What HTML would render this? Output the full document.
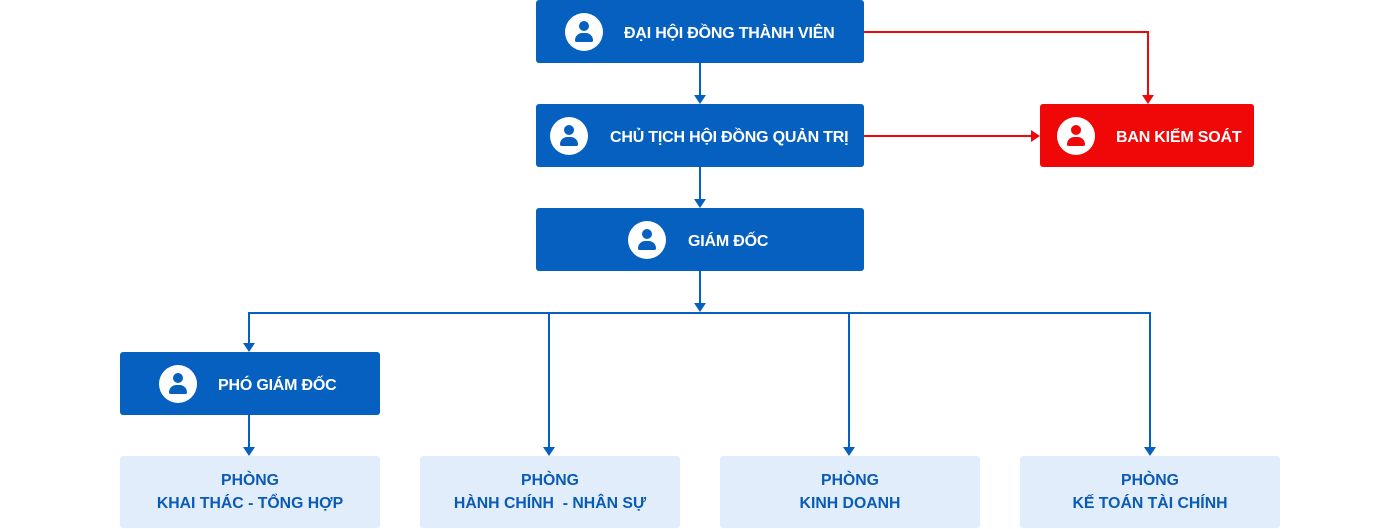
<!DOCTYPE html>
<html><head><meta charset="utf-8"><style>
body{margin:0;width:1400px;height:529px;background:#fff;position:relative;overflow:hidden;font-family:"Liberation Sans",sans-serif;}
.b{position:absolute;background:#0660c0;border-radius:3px;color:#fff;font-weight:bold;font-size:16px;}
.b span{position:absolute;top:calc(50% + 2px);transform:translateY(-50%);white-space:nowrap;letter-spacing:-0.2px}
.ic{position:absolute;width:38px;height:38px;border-radius:50%;background:#fff;top:13px;}
.ic:before{content:"";position:absolute;left:14px;top:8px;width:10px;height:10px;border-radius:50%;background:#0660c0}
.ic:after{content:"";position:absolute;left:10px;top:20px;width:18px;height:9px;border-radius:9px 9px 2px 2px;background:#0660c0}
.red{background:#f00808}.red .ic:before,.red .ic:after{background:#f00808}
.l{position:absolute;background:#e1edfb;border-radius:3px;color:#0a5bb5;font-weight:bold;font-size:15.8px;text-align:center;line-height:23px;padding-top:13px;box-sizing:border-box;width:260px;height:72px;top:456px}
svg{position:absolute;left:0;top:0}
</style></head><body>
<svg width="1400" height="529">
<g stroke="#0660c0" stroke-width="2" fill="none">
<line x1="700" y1="63" x2="700" y2="96"/>
<line x1="700" y1="167" x2="700" y2="200"/>
<line x1="700" y1="271" x2="700" y2="305"/>
<polyline points="249,344 249,313 1150,313 1150,448"/>
<line x1="549" y1="313" x2="549" y2="448"/>
<line x1="849" y1="313" x2="849" y2="448"/>
<line x1="249" y1="415" x2="249" y2="448"/>
</g>
<g fill="#0660c0">
<polygon points="694,95 706,95 700,104"/>
<polygon points="694,199 706,199 700,208"/>
<polygon points="694,303 706,303 700,312"/>
<polygon points="243,343 255,343 249,352"/>
<polygon points="243,447 255,447 249,456"/>
<polygon points="543,447 555,447 549,456"/>
<polygon points="843,447 855,447 849,456"/>
<polygon points="1144,447 1156,447 1150,456"/>
</g>
<g stroke="#f00808" stroke-width="2" fill="none">
<polyline points="864,32 1148,32 1148,96"/>
<line x1="864" y1="136" x2="1032" y2="136"/>
</g>
<g fill="#f00808">
<polygon points="1142,95 1154,95 1148,104"/>
<polygon points="1031,130 1031,142 1040,136"/>
</g>
</svg>
<div class="b" style="left:536px;top:0;width:328px;height:63px"><div class="ic" style="left:29px"></div><span style="left:88px">ĐẠI HỘI ĐỒNG THÀNH VIÊN</span></div>
<div class="b" style="left:536px;top:104px;width:328px;height:63px"><div class="ic" style="left:14px"></div><span style="left:74px">CHỦ TỊCH HỘI ĐỒNG QUẢN TRỊ</span></div>
<div class="b" style="left:536px;top:208px;width:328px;height:63px"><div class="ic" style="left:92px"></div><span style="left:152px">GIÁM ĐỐC</span></div>
<div class="b red" style="left:1040px;top:104px;width:214px;height:63px"><div class="ic" style="left:17px"></div><span style="left:76px">BAN KIỂM SOÁT</span></div>
<div class="b" style="left:120px;top:352px;width:260px;height:63px"><div class="ic" style="left:39px"></div><span style="left:98px">PHÓ GIÁM ĐỐC</span></div>
<div class="l" style="left:120px">PHÒNG<br>KHAI THÁC - TỔNG HỢP</div>
<div class="l" style="left:420px">PHÒNG<br>HÀNH CHÍNH &nbsp;- NHÂN SỰ</div>
<div class="l" style="left:720px">PHÒNG<br>KINH DOANH</div>
<div class="l" style="left:1020px">PHÒNG<br>KẾ TOÁN TÀI CHÍNH</div>
</body></html>
